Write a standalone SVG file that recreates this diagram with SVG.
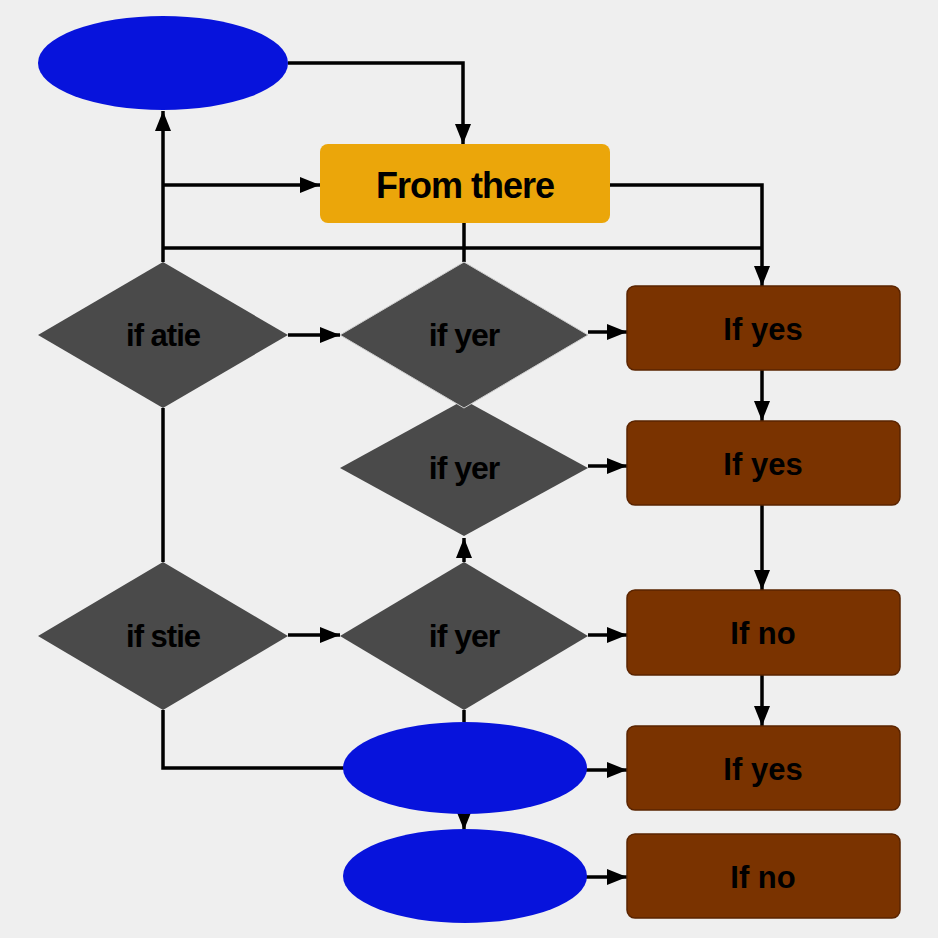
<svg xmlns="http://www.w3.org/2000/svg" width="938" height="938" viewBox="0 0 938 938">
<defs>
<marker id="ah" viewBox="0 0 20 16" refX="20" refY="8" markerWidth="20" markerHeight="16" markerUnits="userSpaceOnUse" orient="auto">
<path d="M0,0 L20,8 L0,16 Z" fill="#000"/>
</marker>
</defs>
<style>
.bg{fill:#efefef}
.ell{fill:#0713dc}
.dia{fill:#4a4a4a}
.box{fill:#7a3300;stroke:#5a2400;stroke-width:1.5}
.org{fill:#eba60a}
.ln{fill:none;stroke:#000;stroke-width:3.5}
.arr{fill:none;stroke:#000;stroke-width:3.5;marker-end:url(#ah)}
text{font-family:"Liberation Sans",Arial,sans-serif;font-weight:bold;fill:#000;text-anchor:middle;dominant-baseline:central;letter-spacing:-1px}
.t32{font-size:32px}
.t30{font-size:31px}
.t36{font-size:36px}
.bt{font-size:31px;letter-spacing:0}
</style>
<rect class="bg" x="0" y="0" width="938" height="938"/>
<g id="connectors">
<polyline class="arr" points="288,63 463,63 463,144"/>
<line class="arr" x1="163" y1="262" x2="163" y2="111"/>
<line class="arr" x1="163" y1="185" x2="320" y2="185"/>
<polyline class="ln" points="163,248 762,248"/>
<polyline class="arr" points="610,185 762,185 762,286"/>
<line class="ln" x1="464" y1="222" x2="464" y2="262"/>
<line class="ln" x1="163" y1="408" x2="163" y2="562"/>
<line class="arr" x1="288" y1="335" x2="340" y2="335"/>
<line class="arr" x1="588" y1="332" x2="627" y2="332"/>
<line class="arr" x1="588" y1="466" x2="627" y2="466"/>
<line class="arr" x1="288" y1="635" x2="340" y2="635"/>
<line class="arr" x1="588" y1="635" x2="627" y2="635"/>
<line class="arr" x1="464" y1="562" x2="464" y2="538"/>
<line class="ln" x1="464" y1="710" x2="464" y2="722"/>
<polyline class="ln" points="163,710 163,768 345,768"/>
<line class="arr" x1="464" y1="812" x2="464" y2="830"/>
<line class="arr" x1="586" y1="770" x2="627" y2="770"/>
<line class="arr" x1="586" y1="877" x2="627" y2="877"/>
<line class="arr" x1="762" y1="370" x2="762" y2="421"/>
<line class="arr" x1="762" y1="505" x2="762" y2="590"/>
<line class="arr" x1="762" y1="675" x2="762" y2="726"/>
</g>
<g id="start1"><ellipse class="ell" cx="163" cy="63" rx="125" ry="47"/></g>
<g id="from-there"><rect class="org" x="320" y="144" width="290" height="79" rx="8"/><text class="t36" x="465" y="185">From there</text></g>
<g id="d3"><polygon class="dia" points="464,400 588,468 464,536 340,468"/><text class="t32" x="464" y="468">if yer</text></g>
<g id="d1"><polygon class="dia" points="163,262 288,335 163,408 38,335"/><text class="t30" x="163" y="335">if atie</text></g>
<g id="d2"><polygon class="dia" points="464,262 588,335 464,408 340,335" stroke="#cfcfcf" stroke-width="1"/><text class="t32" x="464" y="335">if yer</text></g>
<g id="d4"><polygon class="dia" points="163,562 288,636 163,710 38,636"/><text class="t30" x="163" y="636">if stie</text></g>
<g id="d5"><polygon class="dia" points="464,562 588,636 464,710 340,636"/><text class="t32" x="464" y="636">if yer</text></g>
<g id="end1"><ellipse class="ell" cx="465" cy="768" rx="122" ry="46"/></g>
<g id="end2"><ellipse class="ell" cx="465" cy="876" rx="122" ry="47"/></g>
<g id="b1"><rect class="box" x="627" y="286" width="273" height="84" rx="8"/><text class="bt" x="763" y="329">If yes</text></g>
<g id="b2"><rect class="box" x="627" y="421" width="273" height="84" rx="8"/><text class="bt" x="763" y="464">If yes</text></g>
<g id="b3"><rect class="box" x="627" y="590" width="273" height="85" rx="8"/><text class="bt" x="763" y="633">If no</text></g>
<g id="b4"><rect class="box" x="627" y="726" width="273" height="84" rx="8"/><text class="bt" x="763" y="769">If yes</text></g>
<g id="b5"><rect class="box" x="627" y="834" width="273" height="84" rx="8"/><text class="bt" x="763" y="877">If no</text></g>
</svg>
